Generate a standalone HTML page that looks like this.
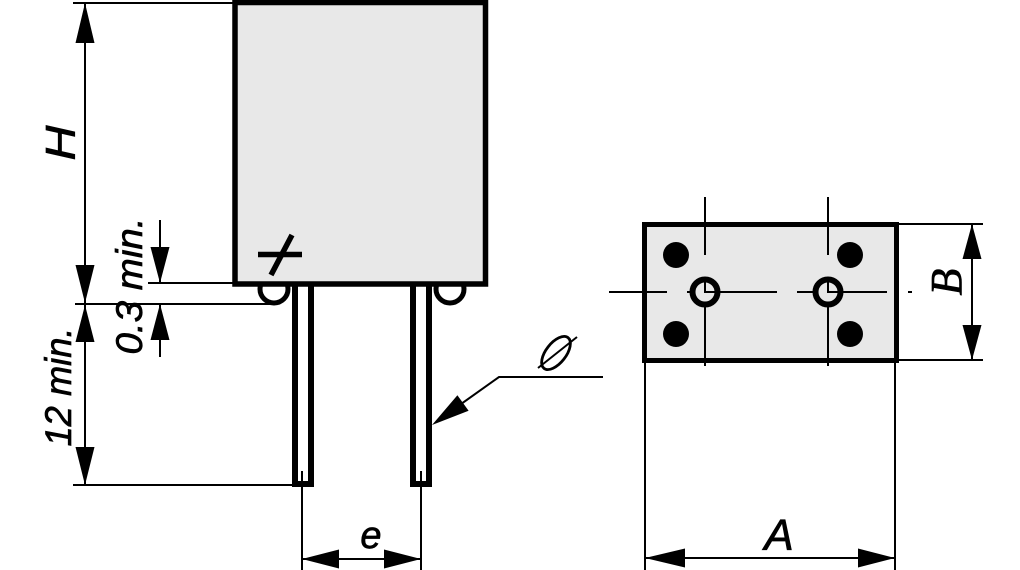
<!DOCTYPE html>
<html><head><meta charset="utf-8"><style>
html,body{margin:0;padding:0;background:#fff;}
svg{display:block;}
text{font-family:"Liberation Sans",sans-serif;font-style:italic;fill:#000;stroke:#000;stroke-width:0.7;}
</style></head><body>
<svg width="1020" height="570" viewBox="0 0 1020 570" xmlns="http://www.w3.org/2000/svg">
<!-- leads -->
<rect x="295" y="270" width="16" height="214" fill="#fff" stroke="#000" stroke-width="6"/>
<rect x="413" y="270" width="16" height="214" fill="#fff" stroke="#000" stroke-width="6"/>
<!-- rings -->
<circle cx="274" cy="289" r="14" fill="#fff" stroke="#000" stroke-width="5"/>
<circle cx="450" cy="289" r="14" fill="#fff" stroke="#000" stroke-width="5"/>
<!-- body -->
<rect x="235" y="2.5" width="250.5" height="281.5" fill="#e8e8e8" stroke="#000" stroke-width="5.5"/>
<!-- plus -->
<line x1="258" y1="254.5" x2="302" y2="254.5" stroke="#000" stroke-width="5.5"/>
<line x1="292" y1="235" x2="271" y2="275" stroke="#000" stroke-width="5.5"/>

<g stroke="#000" stroke-width="2" fill="none">
<!-- extension lines left -->
<line x1="73" y1="3" x2="233" y2="3"/>
<line x1="148" y1="283" x2="233" y2="283"/>
<line x1="75" y1="304" x2="274" y2="304"/>
<line x1="73" y1="485" x2="293" y2="485"/>
<!-- H / 12 min dim line -->
<line x1="85" y1="3" x2="85" y2="485"/>
<!-- 0.3 min -->
<line x1="160" y1="220" x2="160" y2="283"/>
<line x1="160" y1="304" x2="160" y2="357"/>
<!-- e -->
<line x1="302" y1="471" x2="302" y2="570"/>
<line x1="421" y1="471" x2="421" y2="570"/>
<line x1="302" y1="559" x2="421" y2="559"/>
<!-- leader -->
<polyline points="440,419 499,377 603,377"/>
<line x1="538" y1="368" x2="577" y2="337"/>
<!-- A -->
<line x1="645" y1="363" x2="645" y2="570"/>
<line x1="895" y1="363" x2="895" y2="570"/>
<line x1="645" y1="558" x2="895" y2="558"/>
<!-- B -->
<line x1="899" y1="224" x2="983" y2="224"/>
<line x1="899" y1="360" x2="983" y2="360"/>
<line x1="972" y1="224" x2="972" y2="360"/>
</g>
<ellipse cx="556" cy="353" rx="19.5" ry="10" transform="rotate(-52 556 353)" fill="none" stroke="#000" stroke-width="2.8"/>

<!-- arrows -->
<g fill="#000">
<polygon points="85,3 75.5,43 94.5,43"/>
<polygon points="85,303 75.5,265 94.5,265"/>
<polygon points="85,305 75.5,342 94.5,342"/>
<polygon points="85,485 75.5,447 94.5,447"/>
<polygon points="160,283 150.5,247 169.5,247"/>
<polygon points="160,304 150.5,340 169.5,340"/>
<polygon points="302,559 339,549.5 339,568.5"/>
<polygon points="421,559 384,549.5 384,568.5"/>
<polygon points="432,425 468.6,410.8 457.4,395.2"/>
<polygon points="645,558 685,548.5 685,567.5"/>
<polygon points="895,558 858,548.5 858,567.5"/>
<polygon points="972,224 962.5,259 981.5,259"/>
<polygon points="972,360 962.5,325 981.5,325"/>
</g>

<!-- bottom view -->
<rect x="644.5" y="224.5" width="252" height="136" fill="#e8e8e8" stroke="#000" stroke-width="5"/>
<g fill="#000">
<circle cx="676" cy="255" r="13"/>
<circle cx="850" cy="255" r="13"/>
<circle cx="676" cy="334" r="13"/>
<circle cx="850" cy="334" r="13"/>
</g>
<circle cx="705" cy="292" r="12.5" fill="none" stroke="#000" stroke-width="6"/>
<circle cx="828" cy="292" r="12.5" fill="none" stroke="#000" stroke-width="6"/>
<g stroke="#000" stroke-width="2" fill="none">
<line x1="609" y1="292" x2="667" y2="292"/>
<line x1="687" y1="292" x2="692" y2="292"/>
<line x1="705" y1="292" x2="777" y2="292"/>
<line x1="797" y1="292" x2="815" y2="292"/>
<line x1="828" y1="292" x2="887" y2="292"/>
<line x1="908" y1="292" x2="912" y2="292"/>
<line x1="705" y1="197" x2="705" y2="255"/>
<line x1="705" y1="279" x2="705" y2="293"/>
<line x1="705" y1="304" x2="705" y2="366"/>
<line x1="828" y1="197" x2="828" y2="255"/>
<line x1="828" y1="279" x2="828" y2="293"/>
<line x1="828" y1="304" x2="828" y2="366"/>
</g>

<!-- labels -->
<text transform="translate(60,143) rotate(-90)" text-anchor="middle" y="15" font-size="42" textLength="35" lengthAdjust="spacingAndGlyphs">H</text>
<text transform="translate(58,387) rotate(-90)" text-anchor="middle" y="13" font-size="37" textLength="119" lengthAdjust="spacingAndGlyphs">12 min.</text>
<text transform="translate(129,286) rotate(-90)" text-anchor="middle" y="13" font-size="37" textLength="137" lengthAdjust="spacingAndGlyphs">0.3 min.</text>
<text x="371" y="548" text-anchor="middle" font-size="38">e</text>
<text x="779" y="550" text-anchor="middle" font-size="44">A</text>
<text transform="translate(947,282) rotate(-90)" text-anchor="middle" y="14" font-size="44" style="font-family:'Liberation Serif',serif">B</text>
</svg>
</body></html>
